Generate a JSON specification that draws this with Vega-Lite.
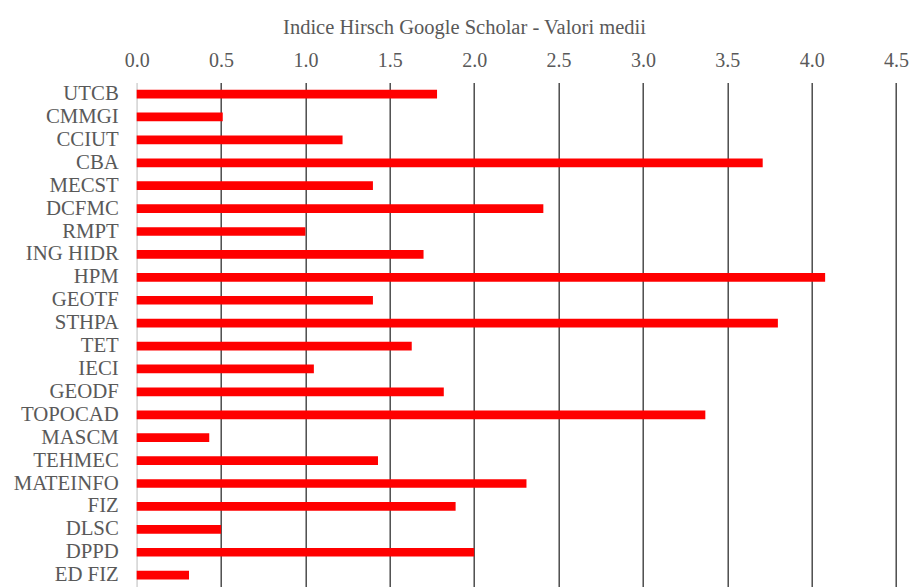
{
  "$schema": "https://vega.github.io/schema/vega-lite/v6.json",
  "autosize": {"type": "none"},
  "width": 759.3,
  "height": 504,
  "padding": {"left": 136.7, "top": 82.6, "right": 16, "bottom": 1.4},
  "background": "white",
  "config": {"view": {"stroke": null}, "font": "'Liberation Serif', 'Times New Roman', 'DejaVu Serif', serif"},
  "data": {
    "values": [
      {"dept": "UTCB", "h": 1.78},
      {"dept": "CMMGI", "h": 0.51},
      {"dept": "CCIUT", "h": 1.22},
      {"dept": "CBA", "h": 3.71},
      {"dept": "MECST", "h": 1.40},
      {"dept": "DCFMC", "h": 2.41},
      {"dept": "RMPT", "h": 1.00},
      {"dept": "ING HIDR", "h": 1.70},
      {"dept": "HPM", "h": 4.08},
      {"dept": "GEOTF", "h": 1.40},
      {"dept": "STHPA", "h": 3.80},
      {"dept": "TET", "h": 1.63},
      {"dept": "IECI", "h": 1.05},
      {"dept": "GEODF", "h": 1.82},
      {"dept": "TOPOCAD", "h": 3.37},
      {"dept": "MASCM", "h": 0.43},
      {"dept": "TEHMEC", "h": 1.43},
      {"dept": "MATEINFO", "h": 2.31},
      {"dept": "FIZ", "h": 1.89},
      {"dept": "DLSC", "h": 0.50},
      {"dept": "DPPD", "h": 2.00},
      {"dept": "ED FIZ", "h": 0.31}
    ]
  },
  "mark": {"type": "bar", "color": "#ff0000"},
  "encoding": {
    "y": {
      "field": "dept",
      "type": "nominal",
      "sort": null,
      "scale": {"paddingInner": 0.62, "paddingOuter": 0.31},
      "axis": {
        "title": null,
        "labelFont": "'Liberation Serif', 'Times New Roman', serif",
        "labelFontSize": 20.8,
        "labelColor": "#595959",
        "labelPadding": 18.4,
        "ticks": false,
        "domain": true,
        "domainColor": "#d9d9d9",
        "domainWidth": 1.5,
        "grid": false
      }
    },
    "x": {
      "field": "h",
      "type": "quantitative",
      "scale": {"domain": [0, 4.5], "nice": false},
      "axis": {
        "orient": "top",
        "values": [0, 0.5, 1, 1.5, 2, 2.5, 3, 3.5, 4, 4.5],
        "format": ".1f",
        "domain": false,
        "ticks": false,
        "grid": true,
        "gridColor": {"condition": {"test": "datum.value === 0", "value": "#d9d9d9"}, "value": "#404040"},
        "gridWidth": 1.4,
        "gridOpacity": 1,
        "labelFont": "'Liberation Serif', 'Times New Roman', serif",
        "labelFontSize": 20,
        "labelColor": "#595959",
        "labelBaseline": "alphabetic",
        "labelPadding": 16,
        "labelFlush": false,
        "labelOverlap": false,
        "title": "Indice Hirsch Google Scholar - Valori medii",
        "titleFont": "'Liberation Serif', 'Times New Roman', serif",
        "titleFontSize": 20.5,
        "titleFontWeight": "normal",
        "titleColor": "#595959",
        "titleBaseline": "alphabetic",
        "titleAlign": "center",
        "titleX": 327.3,
        "titleY": -49.3
      }
    }
  }
}
